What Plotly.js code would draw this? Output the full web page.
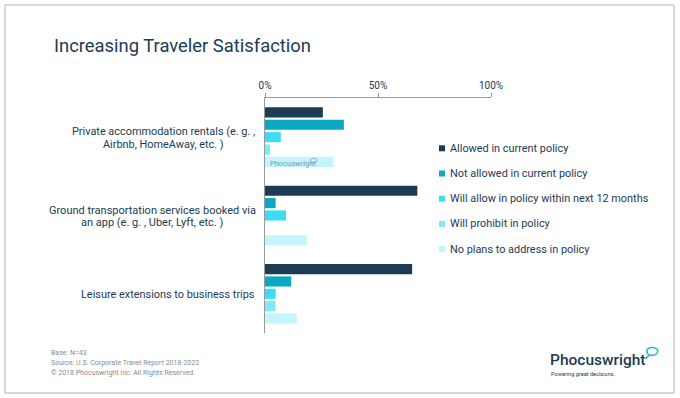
<!DOCTYPE html>
<html>
<head>
<meta charset="utf-8">
<script src="https://cdn.plot.ly/plotly-3.0.1.min.js"></script>
<style>
html,body{margin:0;padding:0;background:#fff;}
#chart{width:680px;height:398px;}
</style>
</head>
<body>
<div id="chart"></div>
<script>
// ---- data ----
const categories = [
  "Private accommodation rentals (e. g. ,<br>Airbnb, HomeAway, etc. )",
  "Ground transportation services booked via<br>an app (e. g. , Uber, Lyft, etc. )",
  "Leisure extensions to business trips"
];
const seriesNames = [
  "Allowed in current policy",
  "Not allowed in current policy",
  "Will allow in policy within next 12 months",
  "Will prohibit in policy",
  "No plans to address in policy"
];
const allowedCurrent   = [25.6, 67.4, 65.1];
const notAllowed       = [34.9, 4.7, 11.6];
const willAllow12m     = [7.0, 9.3, 4.7];
const willProhibit     = [2.3, 0, 4.7];
const noPlans          = [30.2, 18.6, 14.0];
const seriesValues = [allowedCurrent, notAllowed, willAllow12m, willProhibit, noPlans];
const tickValues = [0, 50, 100];
const tickLabels = ["0%", "50%", "100%"];
const titleText = "Increasing Traveler Satisfaction";
const footerLines = [
  "Base: N=43",
  "Source: U.S. Corporate Travel Report 2018-2022",
  "\u00a9 2018 Phocuswright Inc. All Rights Reserved."
];

// ---- styles ----
const colors = ["#1c3b54", "#0ba8c2", "#3ddcf5", "#7fe9f8", "#c3f5fc"];
const navy = "#1c3b54";
const FONT = "Roboto, 'Open Sans', sans-serif";

// plot area in pixels
const L = 265, R = 491, T = 98, B = 333;
const px2x = px => (px - L) / (R - L);
const py2y = py => (B - py) / (B - T);

const traces = seriesNames.map((name, i) => ({
  type: "bar",
  orientation: "h",
  name: name,
  y: categories,
  x: seriesValues[i],
  marker: {color: colors[i], line: {width: 0}},
  hoverinfo: "skip"
}));

const annotations = [];
const shapes = [];

// title
annotations.push({
  xref: "paper", yref: "paper", x: px2x(52), y: py2y(46),
  xanchor: "left", yanchor: "middle", showarrow: false,
  text: titleText, font: {family: FONT, size: 18.4, color: navy}
});

// category labels (centered lines, block right-aligned near the axis)
const labelCenters = [163, 152, 167.5];
const labelSizes = [10.9, 11, 10.9];
const lineGap = 12.7;
categories.forEach((cat, ci) => {
  const lines = cat.split("<br>");
  const n = lines.length;
  lines.forEach((ln, li) => {
    annotations.push({
      xref: "paper", yref: "y", x: px2x(labelCenters[ci]), y: cat,
      yshift: ((n - 1) / 2 - li) * lineGap - 1,
      xanchor: "center", yanchor: "middle", showarrow: false,
      text: ln, font: {family: FONT, size: labelSizes[ci], color: navy}
    });
  });
});

// custom legend
seriesNames.forEach((name, i) => {
  const cy = 148.3 + 25.2 * i;
  shapes.push({
    type: "rect", xref: "paper", yref: "paper",
    x0: px2x(439), x1: px2x(445), y0: py2y(cy + 3), y1: py2y(cy - 3),
    fillcolor: colors[i], line: {width: 0}
  });
  annotations.push({
    xref: "paper", yref: "paper", x: px2x(448), y: py2y(cy),
    xanchor: "left", yanchor: "middle", showarrow: false,
    text: name, font: {family: FONT, size: 10.9, color: navy}
  });
});

// footer
footerLines.forEach((t, i) => {
  annotations.push({
    xref: "paper", yref: "paper", x: px2x(49), y: py2y(353.3 + 9.9 * i),
    xanchor: "left", yanchor: "middle", showarrow: false,
    text: t, font: {family: FONT, size: 7, color: "#8c8c8c"}
  });
});

// logo
annotations.push({
  xref: "paper", yref: "paper", x: px2x(548), y: py2y(360),
  xanchor: "left", yanchor: "middle", showarrow: false,
  text: "Phocuswright", font: {family: FONT, size: 15.5, color: navy, weight: 500}
});
annotations.push({
  xref: "paper", yref: "paper", x: px2x(549), y: py2y(373.5),
  xanchor: "left", yanchor: "middle", showarrow: false,
  text: "Powering great decisions.", font: {family: FONT, size: 5.6, color: navy}
});
function bubble(cx, cy, s) {
  const p = (dx, dy) => px2x(cx + dx * s) + "," + py2y(cy + dy * s);
  return "M" + p(-4, 3) +
    " C" + p(-7, 0.5) + " " + p(-6, -4) + " " + p(-0.5, -4) +
    " C" + p(4, -4) + " " + p(6, -1.5) + " " + p(5, 1) +
    " C" + p(4, 3.5) + " " + p(0, 4.5) + " " + p(-3, 3.5) +
    " L" + p(-7, 7.5);
}
shapes.push({
  type: "path", xref: "paper", yref: "paper", path: bubble(652.5, 351.5, 1),
  line: {color: "#2bb5d6", width: 1.6}, fillcolor: "rgba(0,0,0,0)"
});

// watermark inside bar
annotations.push({
  xref: "paper", yref: "paper", x: px2x(268), y: py2y(163),
  xanchor: "left", yanchor: "middle", showarrow: false,
  text: "Phocuswright", font: {family: FONT, size: 7.5, color: "#8298a8"}
});
shapes.push({
  type: "path", xref: "paper", yref: "paper", path: bubble(314, 160.5, 0.55),
  line: {color: "#8298a8", width: 0.8}, fillcolor: "rgba(0,0,0,0)"
});

// frame
shapes.push({
  type: "rect", xref: "paper", yref: "paper",
  x0: px2x(5), x1: px2x(674), y0: py2y(393), y1: py2y(5),
  line: {color: "#b3b3b3", width: 1}, fillcolor: "rgba(0,0,0,0)", layer: "below"
});

const layout = {
  width: 680, height: 398,
  margin: {l: L, r: 680 - R, t: T, b: 398 - B, pad: 0},
  paper_bgcolor: "#fff", plot_bgcolor: "#fff",
  showlegend: false,
  barmode: "group", bargap: 0.21, bargroupgap: 0.18,
  font: {family: FONT, color: navy},
  xaxis: {
    side: "top", range: [0, 100], fixedrange: true,
    tickvals: tickValues, ticktext: tickLabels,
    tickfont: {family: FONT, size: 10, color: navy},
    showline: true, linecolor: "#9a9a9a", linewidth: 1,
    ticks: "outside", ticklen: 4, tickcolor: "#9a9a9a", tickwidth: 1,
    showgrid: false, zeroline: false
  },
  yaxis: {
    type: "category", autorange: "reversed", fixedrange: true,
    showticklabels: false, ticks: "",
    showline: true, linecolor: "#9a9a9a", linewidth: 1,
    showgrid: false, zeroline: false
  },
  annotations: annotations,
  shapes: shapes
};

Plotly.newPlot("chart", traces, layout, {staticPlot: true, displayModeBar: false});
</script>
</body>
</html>
